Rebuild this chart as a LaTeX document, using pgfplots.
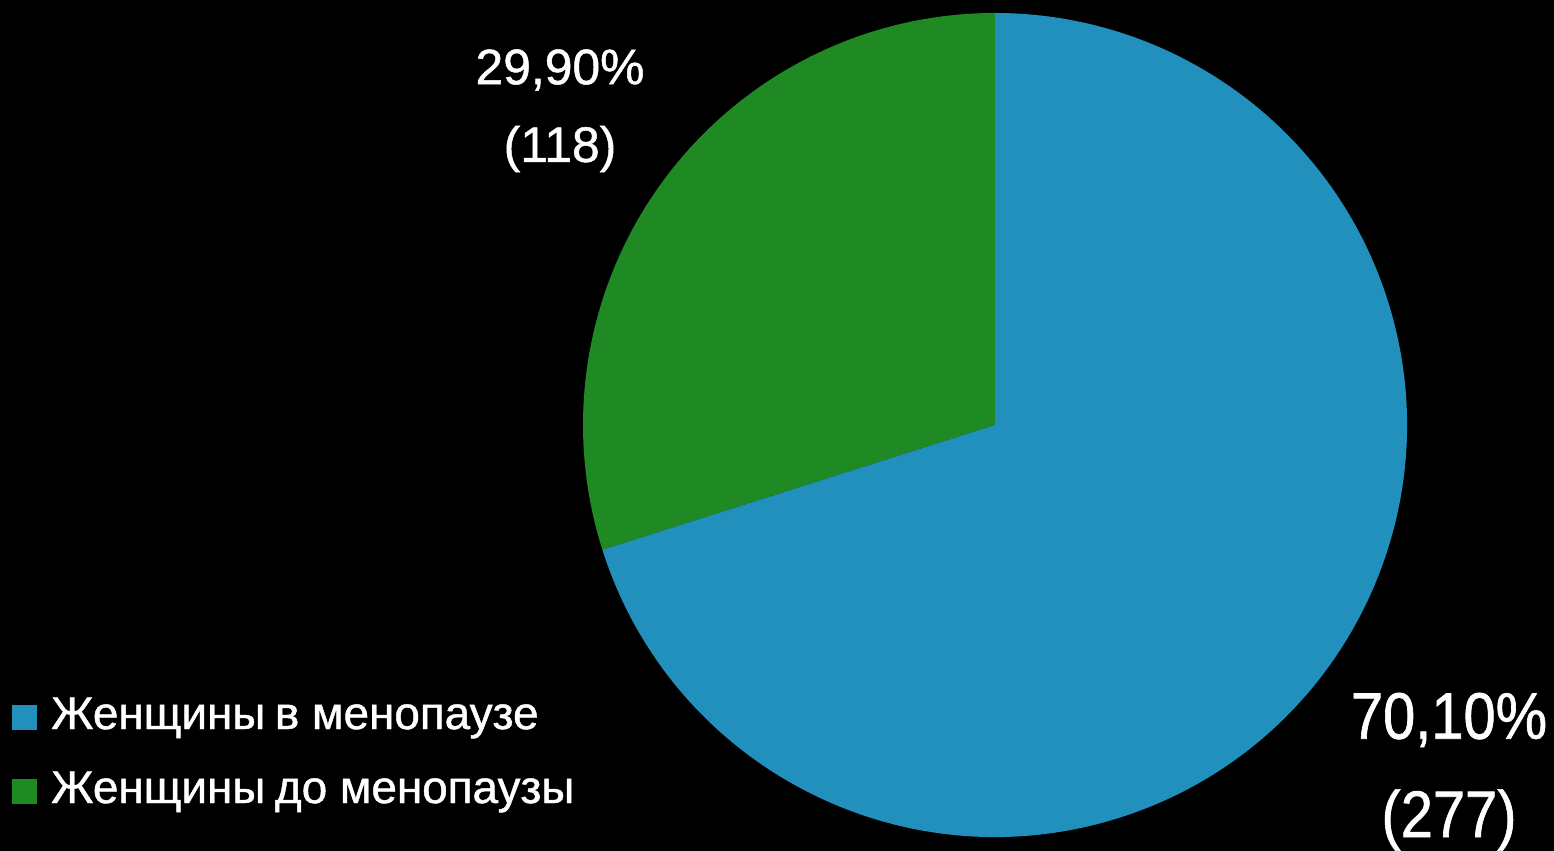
\documentclass[border=0pt]{standalone}
\usepackage{pgfplots}
\usepackage{pgfplotstable}
\usepackage{fontspec}
\pgfplotsset{compat=1.18}
\setmainfont[FakeBold=1]{Liberation Sans}
\newfontfamily\condfont[FakeStretch=0.88,FakeBold=1]{Liberation Sans}
\newfontfamily\legfont[FakeBold=1]{Liberation Sans}

\definecolor{meno}{RGB}{34,144,188}
\definecolor{premeno}{RGB}{31,138,36}

% share in %, number of women
\pgfplotstableread{
share count
70.10 277
29.90 118
}\piedata

\begin{document}
\begin{tikzpicture}
\pgfplotstablegetelem{0}{share}\of\piedata \let\sA\pgfplotsretval
\pgfplotstablegetelem{1}{share}\of\piedata \let\sB\pgfplotsretval
\pgfmathsetmacro{\angB}{90+3.6*\sB}
\begin{axis}[
  name=ax,
  width=1554bp, height=851bp,
  scale only axis,
  xmin=0, xmax=1554, ymin=0, ymax=851,
  axis lines=none,
  clip=false,
]
\fill[black] (axis cs:0,0) rectangle (axis cs:1554,851);
% pie: centre (995,426), radius 412
\fill[premeno] (axis cs:995,426) -- ++(90:412bp) arc[start angle=90, end angle=\angB, radius=412bp] -- cycle;
\fill[meno] (axis cs:995,426) -- ++(\angB:412bp) arc[start angle=\angB, end angle=450, radius=412bp] -- cycle;
% data labels
\node[text=white, font=\fontsize{50}{60}\selectfont] at (axis cs:560,781) {29,90\%};
\node[text=white, font=\fontsize{50}{60}\selectfont] at (axis cs:560,702) {(118)};
\node[text=white, font=\condfont\fontsize{66}{80}\selectfont] at (axis cs:1449,131) {70,10\%};
\node[text=white, font=\condfont\fontsize{66}{80}\selectfont] at (axis cs:1449,31) {(277)};
% legend
\fill[meno] (axis cs:12,121) rectangle (axis cs:37,146);
\fill[premeno] (axis cs:12,47) rectangle (axis cs:37,72);
\node[text=white, anchor=west, font=\legfont\fontsize{46}{55}\selectfont, inner sep=0pt] at (axis cs:51,133) {Женщины\hspace{-3bp} в менопаузе};
\node[text=white, anchor=west, font=\legfont\fontsize{46}{55}\selectfont, inner sep=0pt] at (axis cs:51,59) {Женщины\hspace{-3bp} до менопаузы};
\end{axis}
\pgfresetboundingbox
\path[use as bounding box] (ax.south west) rectangle (ax.north east);
\end{tikzpicture}
\end{document}
